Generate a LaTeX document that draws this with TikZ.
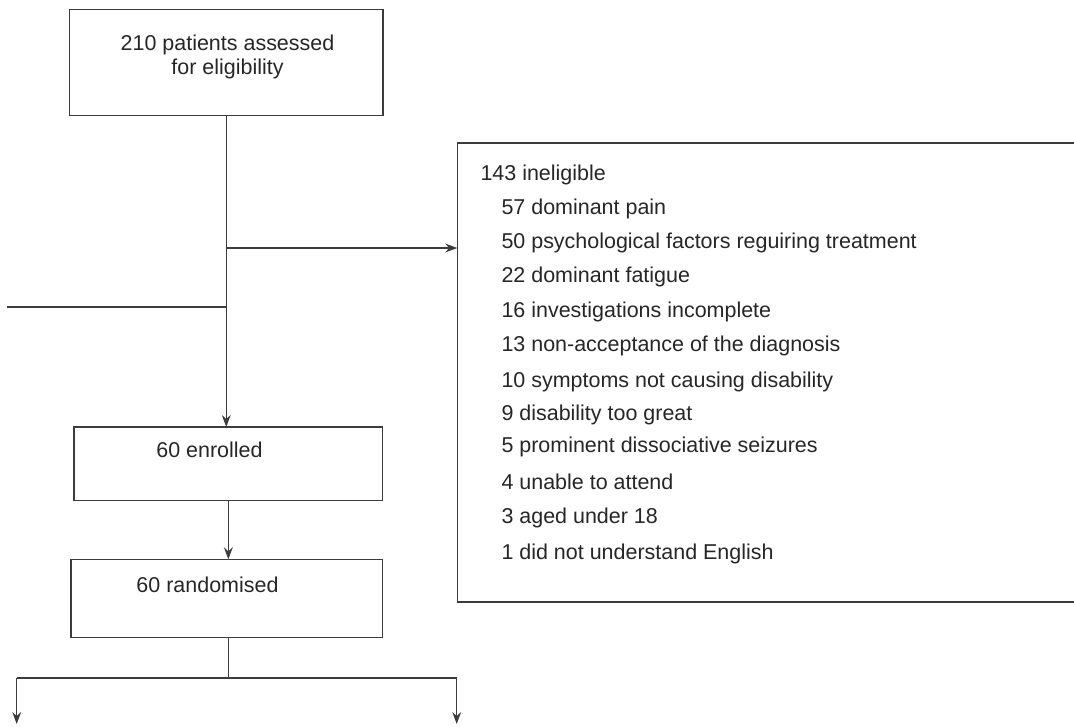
\documentclass[tikz,border=0pt]{standalone}
\usepackage{fontspec}
\setmainfont{Liberation Sans}
\usetikzlibrary{arrows.meta}
\definecolor{ink}{HTML}{262626}
\definecolor{rule}{HTML}{3C3C3C}
\begin{document}
\begin{tikzpicture}[x=0.75pt,y=-0.75pt,
  every node/.style={inner sep=0pt,outer sep=0pt},
  box/.style={draw=rule,line width=1.1pt,rectangle},
  txt/.style={text=ink,font=\fontsize{16.1}{19}\selectfont},
  conn/.style={draw=rule,line width=1.1pt},
  arr/.style={conn,-{Stealth[length=9pt,width=6.6pt,inset=3pt]}}]
\useasboundingbox (0,0) rectangle (1074,726);
\begin{scope}
\clip (0,0) rectangle (1074,726);

% boxes
\node[box,minimum width=313.5*0.75pt,minimum height=106*0.75pt,anchor=north west] (top) at (69.5,9.5) {};
\node[box,minimum width=624*0.75pt,minimum height=459*0.75pt,anchor=north west] (inel) at (457.3,143) {};
\node[box,minimum width=308.7*0.75pt,minimum height=73.7*0.75pt,anchor=north west] (enr) at (74,427) {};
\node[box,minimum width=311.7*0.75pt,minimum height=78.4*0.75pt,anchor=north west] (rand) at (71,559.3) {};

% box texts
\node[txt,anchor=base] (t1) at (227.5,50) {210 patients assessed};
\node[txt,anchor=base] (t2) at (227.5,74) {for eligibility};
\node[txt,anchor=base] (te) at (209.5,457.5) {60 enrolled};
\node[txt,anchor=base] (tr) at (207.5,592) {60 randomised};

\node[txt,anchor=base west] (h0) at (480.5,180.7) {143 ineligible};
\node[txt,anchor=base west] (r1) at (501.5,214.3) {57 dominant pain};
\node[txt,anchor=base west] (r2) at (501.5,248.6) {50 psychological factors reguiring treatment};
\node[txt,anchor=base west] (r3) at (501.5,282.6) {22 dominant fatigue};
\node[txt,anchor=base west] (r4) at (501.5,317.6) {16 investigations incomplete};
\node[txt,anchor=base west] (r5) at (501.5,351.6) {13 non-acceptance of the diagnosis};
\node[txt,anchor=base west] (r6) at (501.5,387.6) {10 symptoms not causing disability};
\node[txt,anchor=base west] (r7) at (501.5,420.3) {9 disability too great};
\node[txt,anchor=base west] (r8) at (501.5,452.6) {5 prominent dissociative seizures};
\node[txt,anchor=base west] (r9) at (501.5,489.3) {4 unable to attend};
\node[txt,anchor=base west] (r10) at (501.5,523.6) {3 aged under 18};
\node[txt,anchor=base west] (r11) at (501.5,559.3) {1 did not understand English};

% junctions and free ends
\coordinate (jx) at (226.25,248);
\coordinate (jl) at (226.25,307);
\coordinate (lend) at (7,307);
\coordinate (split) at (228.3,678);
\coordinate (sl) at (16.7,678);
\coordinate (sr) at (456.7,678);
\coordinate (el) at (16.7,724);
\coordinate (er) at (456.7,724);

% connectors
\draw[arr] (top.south) -- (top.south |- enr.north);
\draw[arr] (jx) -- (jx -| inel.west);
\draw[conn] (jl) -- (lend);
\draw[arr] (enr.south) -- (enr.south |- rand.north);
\draw[conn] (rand.south -| split) -- (split);
\draw[conn] (sl) -- (sr);
\draw[arr] (sl) -- (el);
\draw[arr] (sr) -- (er);
\end{scope}
\end{tikzpicture}
\end{document}
